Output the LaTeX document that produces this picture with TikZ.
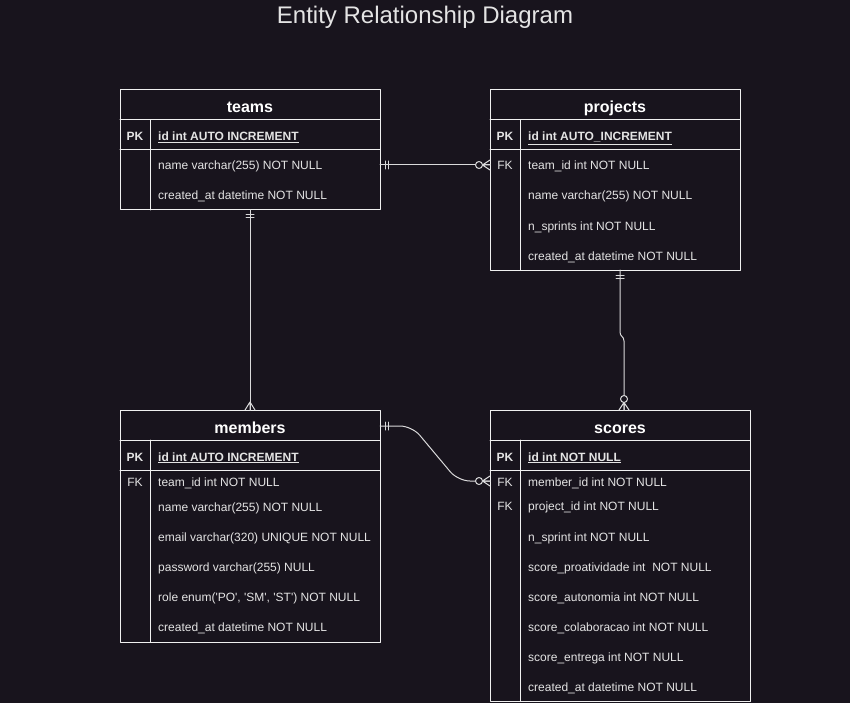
\documentclass[tikz,border=0pt]{standalone}
\usepackage{fontspec}
\setmainfont{Liberation Sans}
\usetikzlibrary{calc}
\definecolor{bg}{HTML}{18141D}
\definecolor{ink}{HTML}{F0F0F0}
\definecolor{txt}{HTML}{E4E4E4}
\tikzset{
  tbox/.style={draw=ink, line width=1pt, inner sep=0pt, outer sep=0pt, anchor=north west},
  head/.style={text=white, font=\fontsize{16}{19}\selectfont\bfseries, anchor=base, inner sep=0pt},
  key/.style={text=txt, font=\fontsize{12}{14}\selectfont, inner sep=0pt, text height=11pt, text depth=1pt},
  field/.style={text=txt, font=\fontsize{12}{14}\selectfont, anchor=west, inner sep=0pt, text height=11pt, text depth=1pt},
  rel/.style={draw=ink!90!bg, line width=1pt},
  one/.pic={\draw[rel] (5,-4)--(5,4) (8,-4)--(8,4);},
  many/.pic={\draw[rel] (0,-5)--(8,0)--(0,5) (0,0)--(8,0);},
  zmany/.pic={\draw[rel] (0,-5)--(7.5,0)--(0,5) (0,0)--(7.5,0);
    \draw[rel, fill=bg] (11,0) circle (3.5);}
}
\begin{document}
\begin{tikzpicture}[x=1pt,y=-1pt, line join=round, line cap=round]
	\fill[bg] (0,0) rectangle (850,703);
	\useasboundingbox (0,0) rectangle (850,703);
	\node (title) at (425,24) [anchor=base, inner sep=0pt, text=txt, font=\fontsize{24}{28}\selectfont] {Entity Relationship Diagram};
	% tables
	\node (teams) at (120,90) [tbox, minimum width=260pt, minimum height=120pt] {};
	\node (projects) at (490,90) [tbox, minimum width=250pt, minimum height=180pt] {};
	\node (members) at (120,410) [tbox, minimum width=260pt, minimum height=232pt] {};
	\node (scores) at (490,410) [tbox, minimum width=260pt, minimum height=291.5pt] {};
	\draw[ink, line width=1pt] (120,120)--(380,120) (120,150)--(380,150) (150,120)--(150,210);
	\draw[ink, line width=1pt] (490,120)--(740,120) (490,150)--(740,150) (520,120)--(520,270);
	\draw[ink, line width=1pt] (120,440)--(380,440) (120,470)--(380,470) (150,440)--(150,642);
	\draw[ink, line width=1pt] (490,440)--(750,440) (490,470)--(750,470) (520,440)--(520,701.5);
	% teams
	\node (teams-title) at (250,113) [head] {teams};
	\node (teams-pk) at (135,136) [key] {\bfseries PK};
	\node (teams-id) at (158,136) [field] {\bfseries\underline{id int AUTO INCREMENT}};
	\node (teams-name) at (158,165) [field] {name varchar(255) NOT NULL};
	\node (teams-created) at (158,195) [field] {created\_at datetime NOT NULL};
	% projects
	\node (proj-title) at (615,113) [head] {projects};
	\node (proj-pk) at (505,136) [key] {\bfseries PK};
	\node (proj-id) at (528,136) [field] {\bfseries\underline{id int AUTO\_INCREMENT}};
	\node (proj-fk) at (505,165) [key] {FK};
	\node (proj-team) at (528,165) [field] {team\_id int NOT NULL};
	\node (proj-name) at (528,195) [field] {name varchar(255) NOT NULL};
	\node (proj-sprints) at (528,225) [field] {n\_sprints int NOT NULL};
	\node (proj-created) at (528,255) [field] {created\_at datetime NOT NULL};
	% members
	\node (mem-title) at (250,433) [head] {members};
	\node (mem-pk) at (135,456) [key] {\bfseries PK};
	\node (mem-id) at (158,456) [field] {\bfseries\underline{id int AUTO INCREMENT}};
	\node (mem-fk) at (135,481) [key] {FK};
	\node (mem-team) at (158,481) [field] {team\_id int NOT NULL};
	\node (mem-name) at (158,506) [field] {name varchar(255) NOT NULL};
	\node (mem-email) at (158,536) [field] {email varchar(320) UNIQUE NOT NULL};
	\node (mem-pass) at (158,566) [field] {password varchar(255) NULL};
	\node (mem-role) at (158,596) [field] {role enum(\textquotesingle PO\textquotesingle, \textquotesingle SM\textquotesingle, \textquotesingle ST\textquotesingle) NOT NULL};
	\node (mem-created) at (158,626) [field] {created\_at datetime NOT NULL};
	% scores
	\node (sc-title) at (620,433) [head] {scores};
	\node (sc-pk) at (505,456) [key] {\bfseries PK};
	\node (sc-id) at (528,456) [field] {\bfseries\underline{id int NOT NULL}};
	\node (sc-fk1) at (505,481) [key] {FK};
	\node (sc-member) at (528,481) [field] {member\_id int NOT NULL};
	\node (sc-fk2) at (505,505) [key] {FK};
	\node (sc-project) at (528,505) [field] {project\_id int NOT NULL};
	\node (sc-sprint) at (528,536) [field] {n\_sprint int NOT NULL};
	\node (sc-proat) at (528,566) [field] {score\_proatividade int \ NOT NULL};
	\node (sc-auton) at (528,596) [field] {score\_autonomia int NOT NULL};
	\node (sc-colab) at (528,626) [field] {score\_colaboracao int NOT NULL};
	\node (sc-entrega) at (528,656) [field] {score\_entrega int NOT NULL};
	\node (sc-created) at (528,686) [field] {created\_at datetime NOT NULL};
	% relations
	\draw[rel] (teams-name -| teams.east)--(proj-team -| projects.west);
	\draw[rel] (teams.south)--(members.north);
	\draw[rel] ($(projects.south)+(5,0)$)--($(projects.south)+(5,62)$) .. controls ($(projects.south)+(5,67)$) and ($(scores.north)+(4,-74)$) .. ($(scores.north)+(4,-69)$)--($(scores.north)+(4,0)$);
	\draw[rel, rounded corners=12pt] ($(members.north east)+(0,16)$)--($(members.north east)+(32,16)$)--($(sc-member -| scores.west)+(-32,0)$)--(sc-member -| scores.west);
	\path (teams-name -| teams.east) pic {one};
	\path (proj-team -| projects.west) pic[rotate=180] {zmany};
	\path (teams.south) pic[rotate=-90] {one};
	\path (members.north) pic[rotate=90] {many};
	\path ($(projects.south)+(5,0)$) pic[rotate=-90] {one};
	\path ($(scores.north)+(4,0)$) pic[rotate=90] {zmany};
	\path ($(members.north east)+(0,16)$) pic {one};
	\path (sc-member -| scores.west) pic[rotate=180] {zmany};
\end{tikzpicture}
\end{document}
